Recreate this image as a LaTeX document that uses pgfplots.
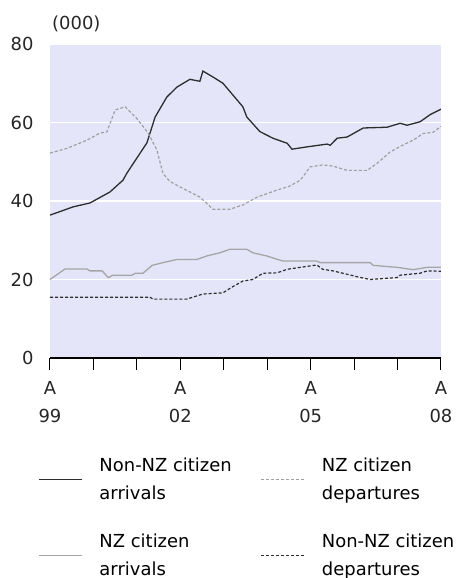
\documentclass[border=0pt]{standalone}
\usepackage{pgfplots}
\pgfplotsset{compat=1.18}
\usepackage{fontspec}
\setmainfont{DejaVu Sans}
\definecolor{bgcol}{RGB}{229,229,250}
\definecolor{darkline}{RGB}{45,45,45}
\definecolor{greyline}{RGB}{165,165,165}
\definecolor{lightdash}{RGB}{160,160,160}
\newcommand\twoline[2]{\vtop{\baselineskip=27.5bp\hbox{#1}\hbox{#2}}}
\begin{document}
\begin{tikzpicture}
\path[use as bounding box] (0bp,0bp) rectangle (460bp,578bp);
\begin{axis}[
  at={(50bp,220bp)}, anchor=south west,
  scale only axis, width=391bp, height=314bp,
  xmin=0, xmax=9, ymin=0, ymax=80,
  clip mode=individual,
  axis background/.style={fill=bgcol},
  separate axis lines,
  axis x line*=bottom, axis y line*=left,
  y axis line style={draw=none},
  x axis line style={black, line width=1.2bp},
  ytick={0,20,40,60,80},
  ytick style={draw=none},
  ymajorgrids, grid style={white, line width=1.2bp},
  xtick={0,3,6,9},
  minor xtick={1,2,4,5,7,8},
  xticklabels={{A\\99},{A\\02},{A\\05},{A\\08}},
  tick align=outside,
  major tick length=12bp, minor tick length=12bp,
  xtick style={black, line width=1bp},
  /pgf/number format/assume math mode=true,
  tick label style={font=\fontsize{18}{28.5}\selectfont, text=black!85},
  xticklabel style={align=center, yshift=-7.5bp},
  yticklabel style={xshift=-1bp},
  legend columns=2,
  legend style={at={(-0.0307,-0.3178)}, anchor=north west, draw=none, fill=none,
    inner sep=0pt, column sep=0pt, row sep=54bp, nodes={inner sep=0pt},
    font=\fontsize{18}{27.5}\selectfont,
    /tikz/every odd column/.append style={column sep=17bp},
    /tikz/every even column/.append style={column sep=29bp}},
  legend cell align=left,
  legend image code/.code={\draw[#1] (0bp,-14bp) -- (43bp,-14bp);},
]
\addplot[darkline, line width=1.3bp] coordinates {
(0,36.4) (0.53,38.5) (0.92,39.5) (1.38,42.3) (1.68,45.3) (1.77,47.1) (2.23,54.8) (2.42,61.4) (2.69,66.5) (2.92,69) (3.22,71) (3.45,70.5) (3.52,73.1) (3.75,71.6) (3.98,70) (4.21,67) (4.44,64) (4.53,61.4) (4.83,57.7) (5.13,56) (5.46,54.7) (5.57,53.2) (5.92,53.8) (6.38,54.5) (6.45,54.2) (6.61,56) (6.84,56.3) (7.21,58.6) (7.76,58.8) (8.06,59.8) (8.22,59.3) (8.52,60.2) (8.75,62) (9,63.4)};
\addlegendentry{\twoline{Non-NZ citizen}{arrivals}}
\addplot[lightdash, line width=1.2bp, dash pattern=on 3bp off 2bp] coordinates {
(0,52.2) (0.39,53.4) (0.85,55.5) (1.15,57.3) (1.31,57.6) (1.50,63.2) (1.73,64) (2.0,61) (2.26,57.3) (2.46,53) (2.60,47) (2.76,45) (3.06,43.2) (3.45,41) (3.75,37.9) (4.14,37.9) (4.44,39) (4.77,41) (5.23,42.8) (5.52,43.8) (5.76,45.3) (5.99,48.7) (6.28,49.2) (6.51,48.9) (6.84,47.8) (7.30,47.8) (7.53,49.6) (7.83,52.5) (8.13,54.3) (8.36,55.5) (8.59,57.2) (8.82,57.5) (9,59)};
\addlegendentry{\twoline{NZ citizen}{departures}}
\addplot[greyline, line width=1.3bp] coordinates {
(0,20) (0.35,22.7) (0.85,22.7) (0.92,22.2) (1.20,22.2) (1.34,20.5) (1.45,21.1) (1.89,21.1) (1.96,21.6) (2.14,21.6) (2.35,23.6) (2.60,24.3) (2.92,25.1) (3.38,25.1) (3.61,26) (3.91,26.8) (4.14,27.7) (4.53,27.7) (4.67,26.8) (4.99,26) (5.36,24.7) (6.14,24.7) (6.22,24.3) (7.37,24.3) (7.44,23.6) (7.99,23.1) (8.36,22.5) (8.68,23.1) (9,23.1)};
\addlegendentry{\twoline{NZ citizen}{arrivals}}
\addplot[darkline, line width=1.2bp, dash pattern=on 3bp off 2bp] coordinates {
(0,15.5) (2.30,15.5) (2.37,15) (3.15,15) (3.29,15.5) (3.52,16.3) (3.98,16.6) (4.21,18.2) (4.44,19.6) (4.67,20) (4.90,21.6) (5.23,21.7) (5.46,22.6) (5.76,23.1) (6.14,23.7) (6.28,22.6) (6.51,22.2) (6.74,21.6) (7.07,20.7) (7.37,20) (7.99,20.5) (8.06,21.1) (8.52,21.6) (8.68,22.2) (9,22.1)};
\addlegendentry{\twoline{Non-NZ citizen}{departures}}
\node[anchor=base west, inner sep=0pt, font=\fontsize{18}{22}\selectfont, text=black!85] at (rel axis cs:0,1) [xshift=2bp, yshift=14bp] {(000)};
\end{axis}
\end{tikzpicture}
\end{document}
